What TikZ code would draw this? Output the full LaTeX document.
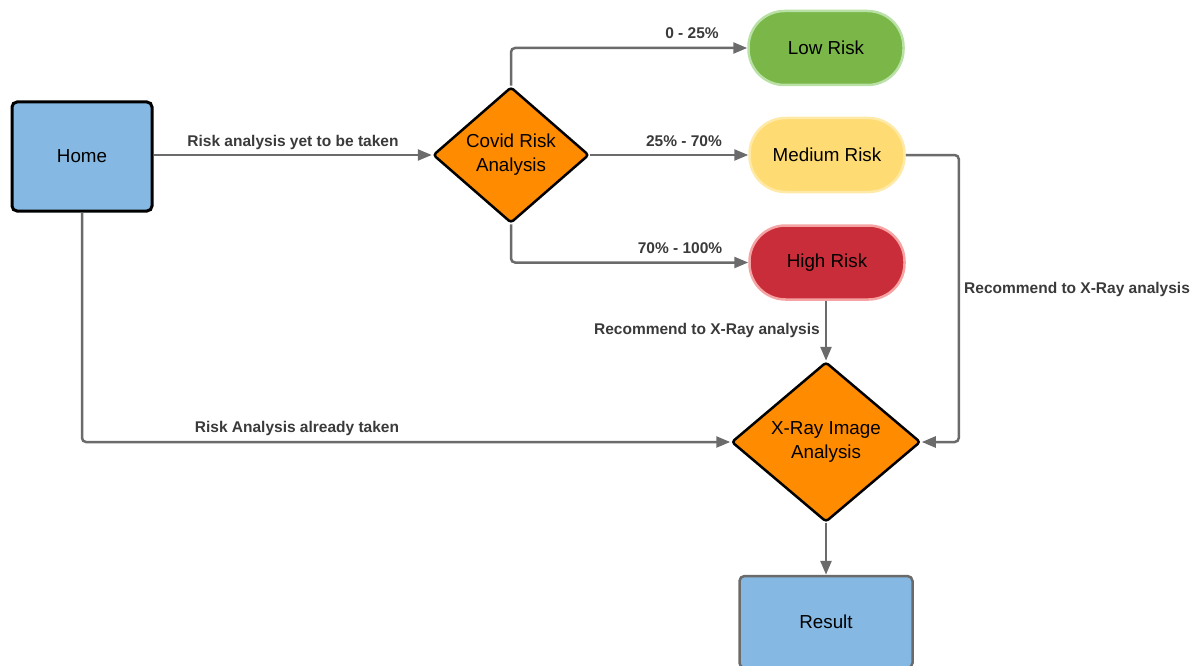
\documentclass[tikz,border=0pt]{standalone}
\usepackage{fontspec}
\setmainfont{Liberation Sans}
\usetikzlibrary{shapes.geometric,arrows.meta}
\definecolor{boxblue}{HTML}{85B9E3}
\definecolor{dorange}{HTML}{FF8C00}
\definecolor{lowg}{HTML}{7AB648}
\definecolor{lowgb}{HTML}{B9E0A5}
\definecolor{medy}{HTML}{FFDC73}
\definecolor{medyb}{HTML}{FFE9A6}
\definecolor{highr}{HTML}{C92D39}
\definecolor{highrb}{HTML}{F5A3A3}
\definecolor{linegray}{HTML}{6B6B6B}
\definecolor{lbltext}{HTML}{3A3A3A}
\begin{document}
\begin{tikzpicture}[x=1pt,y=-1pt,
  nodetext/.style={font=\fontsize{18.8}{24}\selectfont, align=center, text=black},
  sqbox/.style={nodetext, draw=black, line width=3pt, fill=boxblue, rounded corners=5pt,
    minimum width=140pt, minimum height=109pt, inner sep=0pt},
  resbox/.style={nodetext, draw=linegray, line width=2.5pt, fill=boxblue, rounded corners=5pt,
    minimum width=173pt, minimum height=92pt, inner sep=0pt},
  decision/.style={nodetext, diamond, draw=black, line width=2.5pt, fill=dorange,
    rounded corners=3pt, inner sep=0pt},
  pill/.style={nodetext, draw, line width=2.5pt, rounded corners=36pt,
    minimum width=155pt, minimum height=74pt, inner sep=0pt},
  conn/.style={draw=linegray, line width=2.5pt, rounded corners=4pt,
    -{Triangle[length=14pt,width=11pt]}},
  lbl/.style={font=\fontsize{15.5}{18}\selectfont\bfseries, text=lbltext, inner sep=0pt}]
\useasboundingbox (0,0) rectangle (1191,666);
\clip (0,0) rectangle (1191,666);

\node[sqbox] (home) at (82,156.5) {Home};
\node[decision, aspect=1.15, minimum width=156pt, minimum height=136pt] (covid) at (511,155) {Covid Risk\\Analysis};
\node[pill, fill=lowg, draw=lowgb] (low) at (826,48) {Low Risk};
\node[pill, fill=medy, draw=medyb] (med) at (827,155) {Medium Risk};
\node[pill, fill=highr, draw=highrb] (high) at (827,262.5) {High Risk};
\node[decision, aspect=1.18, minimum width=189pt, minimum height=160pt] (xray) at (826,442) {X-Ray Image\\Analysis};
\node[resbox] (result) at (826,622) {Result};

\draw[conn] (home.east |- covid.west) -- (covid.west);
\draw[conn] (covid.north) |- (low.west);
\draw[conn] (covid.east) -- (med.west);
\draw[conn] (covid.south) |- (high.west);
\draw[conn] (high.south -| xray.north) -- (xray.north);
\draw[conn] (med.east) -- ++(53,0) |- (xray.east);
\draw[conn] (home.south) |- (xray.west);
\draw[conn] (xray.south) -- (result.north);

\node[lbl] (l1) at (293,142) {Risk analysis yet to be taken};
\node[lbl] (l2) at (692,33) {0 - 25\%};
\node[lbl] (l3) at (684,141) {25\% - 70\%};
\node[lbl] (l4) at (680,248) {70\% - 100\%};
\node[lbl, anchor=east] (l5) at (820,330) {Recommend to X-Ray analysis};
\node[lbl, anchor=west] (l6) at (964,289) {Recommend to X-Ray analysis};
\node[lbl] (l7) at (297,428) {Risk Analysis already taken};
\end{tikzpicture}
\end{document}
